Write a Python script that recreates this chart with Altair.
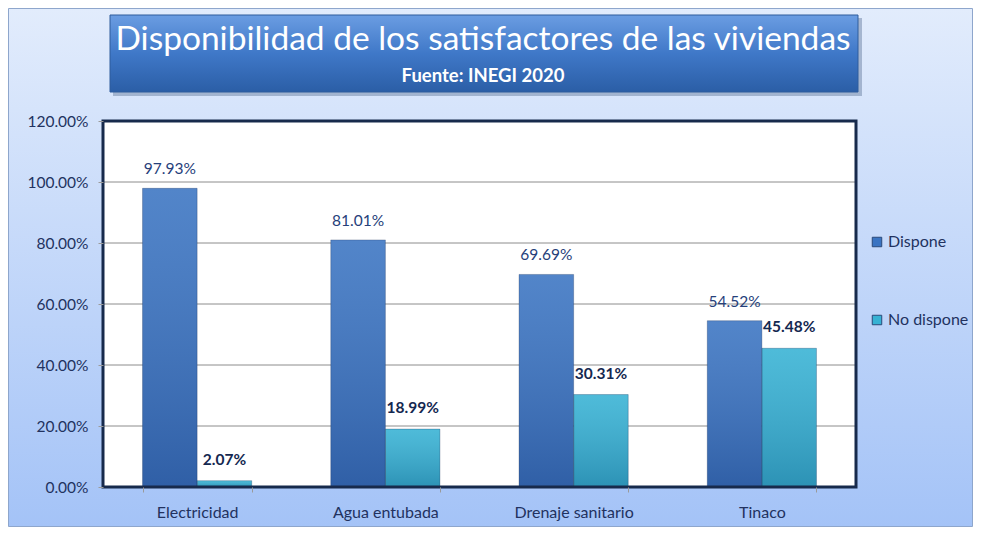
import altair as alt
import pandas as pd

categories = ["Electricidad", "Agua entubada", "Drenaje sanitario", "Tinaco"]
series = ["Dispone", "No dispone"]
dispone = [0.9793, 0.8101, 0.6969, 0.5452]
no_dispone = [0.0207, 0.1899, 0.3031, 0.4548]
y_ticks = [0, 0.2, 0.4, 0.6, 0.8, 1.0, 1.2]
title_text = "Disponibilidad de los satisfactores de las viviendas"
subtitle_text = "Fuente: INEGI 2020"

rows = []
for c, d, n in zip(categories, dispone, no_dispone):
    rows.append({"cat": c, "serie": series[0], "val": d})
    rows.append({"cat": c, "serie": series[1], "val": n})
df = pd.DataFrame(rows)

W, H = 753, 366
PL, PT, PR, PB = 95, 113, 117, 40
FONT = "Lato"
NAVY = "#22325f"

one = pd.DataFrame({"a": [0]})

x_enc = alt.X("cat:N", sort=categories, title=None,
              scale=alt.Scale(paddingInner=0.42, paddingOuter=0.21),
              axis=alt.Axis(labelAngle=0, domain=False, tickBand="extent",
                            tickColor="#9a9a9a", tickSize=5, labelPadding=12,
                            labelFontSize=16, labelColor=NAVY, labelFont=FONT,
                            zindex=1))
y_enc = alt.Y("val:Q", title=None,
              scale=alt.Scale(domain=[0, 1.2], nice=False, zero=True),
              axis=alt.Axis(values=y_ticks, format=".2%", grid=False, domain=False,
                            tickColor="#9a9a9a", tickSize=5, labelPadding=10,
                            labelFontSize=15.5, labelColor=NAVY, labelFont=FONT,
                            zindex=1))
xoff = alt.XOffset("serie:N", sort=series)

bg = alt.Chart(one).mark_rect(
    fill=alt.LinearGradient(gradient="linear", x1=0, y1=0, x2=0, y2=1,
                            stops=[alt.GradientStop(offset=0, color="#e2ecfc"),
                                   alt.GradientStop(offset=1, color="#a4c3f7")]),
    stroke="#8ea6cc", strokeWidth=1
).encode(x=alt.value(-PL + 0.5), x2=alt.value(W + PR - 0.5),
         y=alt.value(-PT + 0.5), y2=alt.value(H + PB - 0.5))

title_shadow = alt.Chart(one).mark_rect(fill="#7f93b3", opacity=0.6).encode(
    x=alt.value(10), x2=alt.value(759), y=alt.value(-103), y2=alt.value(-25))
title_box = alt.Chart(one).mark_rect(
    fill=alt.LinearGradient(gradient="linear", x1=0, y1=0, x2=0, y2=1,
                            stops=[alt.GradientStop(offset=0, color="#6b9de2"),
                                   alt.GradientStop(offset=0.5, color="#3f78c8"),
                                   alt.GradientStop(offset=1, color="#2b5ea6")]),
    stroke="#2f5d9c", strokeWidth=1
).encode(x=alt.value(7), x2=alt.value(755), y=alt.value(-106), y2=alt.value(-29))

title_t = alt.Chart(one).mark_text(
    text=title_text, font=FONT, fontSize=33.5, color="white", align="center",
    baseline="alphabetic").encode(x=alt.value(380), y=alt.value(-71))
sub_t = alt.Chart(one).mark_text(
    text=subtitle_text, font=FONT, fontSize=18.5, fontWeight="bold", color="white",
    align="center", baseline="alphabetic").encode(x=alt.value(380), y=alt.value(-39))

plot_bg = alt.Chart(one).mark_rect(fill="white").encode(
    x=alt.value(0), x2=alt.value(W), y=alt.value(0), y2=alt.value(H))

grid = alt.Chart(pd.DataFrame({"g": y_ticks[1:-1]})).mark_rule(
    color="#8c8c8c", strokeWidth=1).encode(
    y=alt.Y("g:Q", scale=alt.Scale(domain=[0, 1.2], nice=False)))

bars = alt.Chart(df).mark_bar().encode(
    x=x_enc, xOffset=xoff, y=y_enc,
    color=alt.Color("serie:N", sort=series, title=None,
                    scale=alt.Scale(domain=series, range=["#3a74c2", "#36b2d4"]),
                    legend=alt.Legend(orient="none", legendX=766, legendY=113,
                                      symbolType="square", symbolSize=90,
                                      symbolStrokeColor="#2a4a7a", symbolStrokeWidth=1,
                                      labelFontSize=16, labelFont=FONT, labelColor=NAVY,
                                      rowPadding=62, padding=0, labelOffset=3)))

shade = alt.Chart(df).mark_bar(
    fill=alt.LinearGradient(gradient="linear", x1=0, y1=0, x2=0, y2=1,
                            stops=[alt.GradientStop(offset=0, color="rgba(255,255,255,0.12)"),
                                   alt.GradientStop(offset=1, color="rgba(0,0,40,0.18)")]),
    stroke="rgba(20,40,80,0.35)", strokeWidth=0.8
).encode(x=alt.X("cat:N", sort=categories), xOffset=xoff, y="val:Q")

lab_d = alt.Chart(df).transform_filter(alt.datum.serie == series[0]).mark_text(
    font=FONT, fontSize=15.5, color="#26407a", baseline="middle", dy=-19
).encode(x=alt.X("cat:N", sort=categories), xOffset=xoff, y="val:Q",
         text=alt.Text("val:Q", format=".2%"))
lab_n = alt.Chart(df).transform_filter(alt.datum.serie == series[1]).mark_text(
    font=FONT, fontSize=15.5, fontWeight="bold", color="#142850", baseline="middle", dy=-21
).encode(x=alt.X("cat:N", sort=categories), xOffset=xoff, y="val:Q",
         text=alt.Text("val:Q", format=".2%"))

frame = alt.Chart(one).mark_rect(fill=None, stroke="#172a4c", strokeWidth=3).encode(
    x=alt.value(0), x2=alt.value(W), y=alt.value(0), y2=alt.value(H))

chart = alt.layer(
    bg, title_shadow, title_box, title_t, sub_t, plot_bg, grid, bars, shade,
    lab_d, lab_n, frame
).resolve_scale(y="shared").properties(
    width=W, height=H,
    autosize=alt.AutoSizeParams(type="none"),
    padding={"left": PL, "top": PT, "right": PR, "bottom": PB},
).configure_view(stroke=None)

chart.save("out.html", embed_options={"renderer": "svg", "actions": False})
